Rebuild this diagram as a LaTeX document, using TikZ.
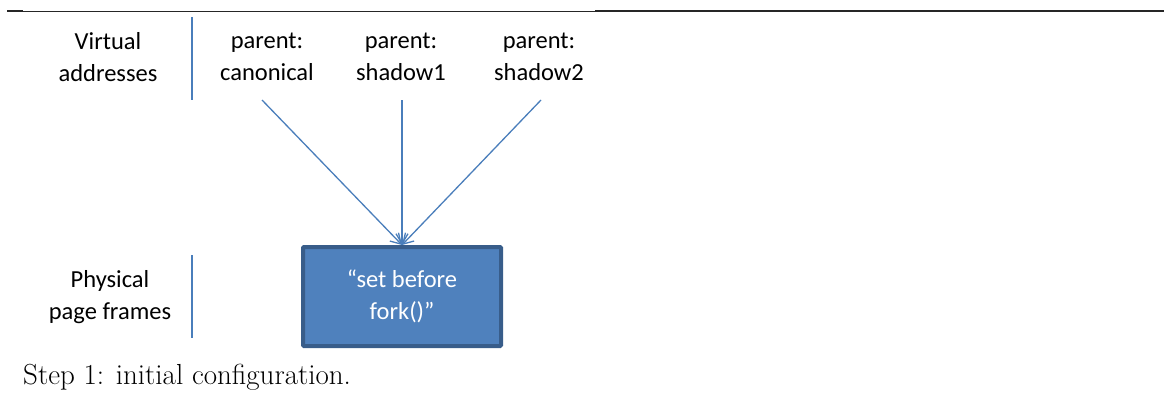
\documentclass[tikz,border=0pt]{standalone}
\usepackage{fontspec}
\newfontfamily\slidefont{Carlito}
\usetikzlibrary{arrows.meta}
\definecolor{linkblue}{HTML}{4A7EBB}
\definecolor{framefill}{HTML}{4F81BD}
\definecolor{frameedge}{HTML}{385D8A}
\definecolor{rulegray}{HTML}{262626}
\tikzset{
  label/.style={font=\slidefont\fontsize{24.5}{32}\selectfont, text=black, align=center, inner sep=0pt},
  divider/.style={draw=linkblue, line width=1.5pt},
  mapping/.style={draw=linkblue, line width=1.3pt, -{Straight Barb[length=10pt,width=12pt,line width=1.3pt]}},
  pageframe/.style={draw=frameedge, fill=framefill, line width=4pt, rounded corners=1pt,
    minimum width=198pt, minimum height=99pt, inner sep=0pt, align=center,
    font=\slidefont\fontsize{24.5}{32}\selectfont, text=white},
}
\begin{document}
\begin{tikzpicture}[x=1pt,y=-1pt]
\useasboundingbox (0,0) rectangle (1164,396);

% top rule
\draw[rulegray, line width=0.9pt] (7,11) -- (1164,11);
\draw[rulegray, line width=1.7pt] (7,11) -- (23,11);
\draw[rulegray, line width=1.7pt] (595,11) -- (1164,11);

% row labels and dividers
\node[label] (virt) at (108,57) {Virtual\\addresses};
\node[label] (phys) at (110,297) {Physical\\page frames};
\coordinate (d1a) at (192,17);
\coordinate (d1b) at (192,100);
\coordinate (d2a) at (192,255);
\coordinate (d2b) at (192,338);
\draw[divider] (d1a) -- (d1b);
\draw[divider] (d2a) -- (d2b);

% virtual address columns
\node[label] (canon) at (267,57) {parent:\\canonical};
\node[label] (shadowA) at (401,57) {parent:\\shadow1};
\node[label] (shadowB) at (539,57) {parent:\\shadow2};

% the shared physical frame
\node[pageframe] (frame) at (402,296.5) {\textquotedblleft set before\\fork()\textquotedblright};

% mappings
\coordinate (t1) at (262,100);
\coordinate (t2) at (402,100);
\coordinate (t3) at (541,100);
\draw[mapping] (t1) -- (frame.north);
\draw[mapping] (t2) -- (frame.north);
\draw[mapping] (t3) -- (frame.north);

% caption
\node[anchor=base west, inner sep=0pt, font=\fontsize{29}{34}\selectfont] (caption) at (23,384) {Step 1: initial configuration.};
\end{tikzpicture}
\end{document}
